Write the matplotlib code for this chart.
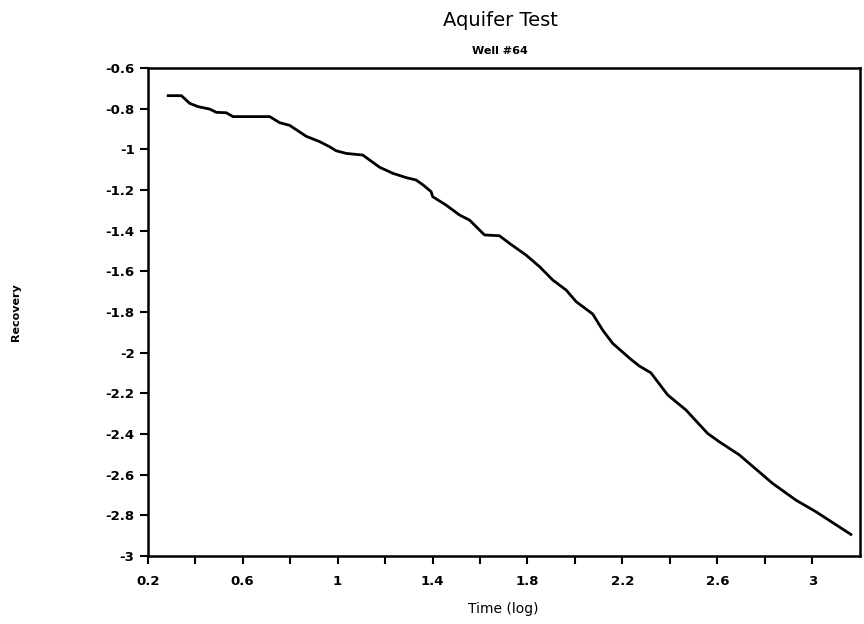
import matplotlib
matplotlib.use("Agg")
import matplotlib.pyplot as plt
from matplotlib.ticker import FixedLocator, MultipleLocator, FormatStrFormatter

# log time vs recovery
log_time = [0.286, 0.342, 0.377, 0.412, 0.461, 0.489, 0.531, 0.559, 0.714, 0.756,
            0.798, 0.868, 0.924, 0.966, 0.994, 1.036, 1.106, 1.177, 1.233, 1.289,
            1.331, 1.360, 1.394, 1.401, 1.457, 1.514, 1.556, 1.619, 1.682, 1.724,
            1.794, 1.851, 1.907, 1.963, 2.005, 2.075, 2.117, 2.159, 2.236, 2.272,
            2.320, 2.391, 2.468, 2.559, 2.608, 2.693, 2.833, 2.931, 3.015, 3.163]
recovery = [-0.736, -0.736, -0.774, -0.790, -0.802, -0.818, -0.820, -0.839, -0.839, -0.869,
            -0.882, -0.936, -0.962, -0.987, -1.007, -1.020, -1.028, -1.088, -1.118, -1.139,
            -1.151, -1.175, -1.208, -1.233, -1.274, -1.323, -1.348, -1.421, -1.425, -1.462,
            -1.520, -1.577, -1.643, -1.692, -1.749, -1.810, -1.889, -1.954, -2.033, -2.066,
            -2.099, -2.208, -2.282, -2.397, -2.438, -2.503, -2.643, -2.725, -2.782, -2.894]
x_labeled = [0.2, 0.6, 1.0, 1.4, 1.8, 2.2, 2.6, 3.0]
x_minor = [0.4, 0.8, 1.2, 1.6, 2.0, 2.4, 2.8]

plt.rcParams["axes.unicode_minus"] = False

fig = plt.figure(figsize=(8.64, 6.24), dpi=100)
ax = fig.add_axes([0.171, 0.109, 0.824, 0.782])

ax.plot(log_time, recovery, color="black", linewidth=2)

ax.set_xlim(0.2, 3.2)
ax.set_ylim(-3, -0.6)
ax.xaxis.set_major_locator(FixedLocator(x_labeled))
ax.xaxis.set_minor_locator(FixedLocator(x_minor))
ax.yaxis.set_major_locator(MultipleLocator(0.2))
ax.xaxis.set_major_formatter(FormatStrFormatter("%g"))
ax.yaxis.set_major_formatter(FormatStrFormatter("%g"))
ax.tick_params(which="both", direction="out", length=6, width=1.5, labelsize=9.5)
ax.tick_params(axis="x", pad=8)
for lbl in ax.get_xticklabels() + ax.get_yticklabels():
    lbl.set_fontweight("bold")
for sp in ax.spines.values():
    sp.set_linewidth(1.8)

fig.text(0.579, 0.967, "Aquifer Test", ha="center", va="center", fontsize=14)
fig.text(0.579, 0.919, "Well #64", ha="center", va="center", fontsize=8, fontweight="bold")
fig.text(0.018, 0.5, "Recovery", rotation=90, ha="center", va="center", fontsize=8, fontweight="bold")
ax.set_xlabel("Time (log)", fontsize=10, labelpad=10)

fig.savefig("out.png", dpi=100)
